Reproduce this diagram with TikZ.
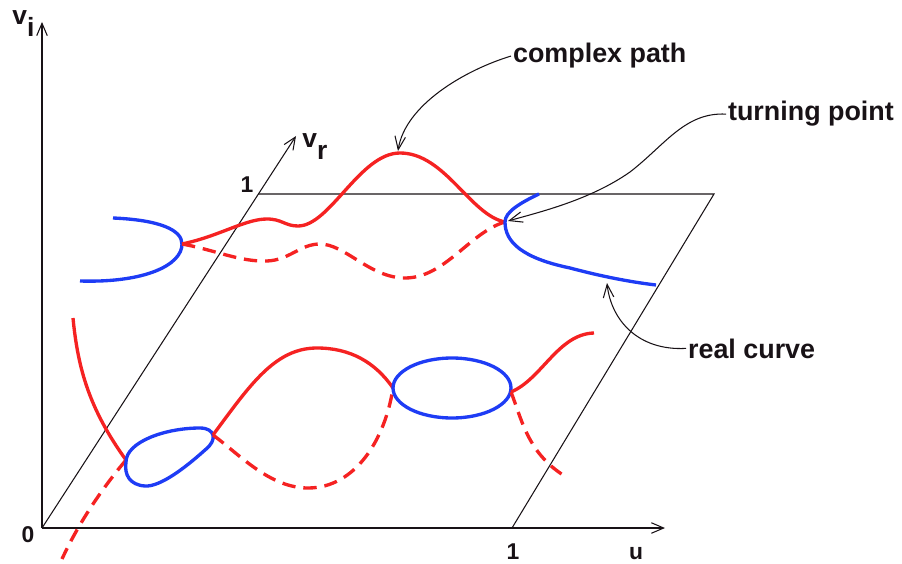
\documentclass[tikz,border=0pt]{standalone}
\usepackage{fontspec}
\setmainfont{Liberation Sans}
\usetikzlibrary{arrows.meta, positioning}
\definecolor{curveRed}{HTML}{F52222}
\definecolor{curveBlue}{HTML}{1E3CF5}
\definecolor{inkDark}{HTML}{181216}
\tikzset{
  axisA/.style={-{Straight Barb[length=7pt, width=6pt]}, line width=0.6pt, draw=inkDark},
  frameA/.style={line width=0.6pt, draw=inkDark},
  noteA/.style={-{Straight Barb[length=7.5pt, width=6pt]}, line width=0.6pt, draw=inkDark},
  curveR/.style={draw=curveRed, line width=1.9pt},
  curveRd/.style={draw=curveRed, line width=1.9pt, dash pattern=on 7.6pt off 4.5pt},
  curveB/.style={draw=curveBlue, line width=1.9pt},
  lblA/.style={font=\fontsize{15.3}{18}\selectfont\bfseries, inner sep=1pt, text=inkDark},
  lblB/.style={font=\fontsize{13}{16}\selectfont\bfseries, inner sep=0pt, text=inkDark},
  lblV/.style={font=\fontsize{15}{18}\selectfont\bfseries, inner sep=0pt, text=inkDark},
}

\begin{document}
\begin{tikzpicture}[x=0.02cm, y=-0.02cm]
    \useasboundingbox (0,0) rectangle (902,564);
    % axes and the unit square
    \coordinate (O) at (42,528);
    \coordinate (viEnd) at (42,22);
    \coordinate (uEnd) at (665,528);
    \coordinate (vrEnd) at (296,136);
    \coordinate (sqA) at (258,194);
    \coordinate (sqB) at (714,194);
    \coordinate (sqC) at (512,528);
    \draw[axisA] (O) -- (viEnd);
    \draw[axisA] (O) -- (uEnd);
    \draw[axisA] (O) -- (vrEnd);
    \draw[frameA] (sqA) -- (sqB) -- (sqC);
    \node[lblV, anchor=base west] (vi) at (12,25) {v\raisebox{-6.8pt}{i}};
    \node[lblV, anchor=base west] (vr) at (302,148) {v\raisebox{-6.8pt}{r}};
    \node[lblB] (zero) at (28,535) {0};
    \node[lblB] (oneV) at (247,185) {1};
    \node[lblB] (oneU) at (513,552) {1};
    \node[lblB] (u) at (636,554) {u};

    % upper sheet
    \draw[curveB] (113,218) .. controls (160,220) and (182,230) .. (182,244)
      .. controls (182,265) and (145,283) .. (80,281);
    \draw[curveR] (182,244) .. controls (220,236) and (245,219) .. (267,219)
      .. controls (282,219) and (285,226) .. (298,226)
      .. controls (330,226) and (360,153) .. (400,153)
      .. controls (445,153) and (470,215) .. (505,222);
    \draw[curveRd] (182,244) .. controls (215,250) and (240,262) .. (267,261)
      .. controls (290,260) and (300,244) .. (320,244)
      .. controls (345,244) and (370,278) .. (405,278)
      .. controls (445,278) and (470,232) .. (505,222);
    \draw[curveB] (539,194) .. controls (520,203) and (505,212) .. (505,222)
      .. controls (505,242) and (522,258) .. (570,268)
      .. controls (600,276) and (630,282) .. (656,285);

    % lower sheet
    \draw[curveR] (73,318) .. controls (78,370) and (90,410) .. (126,460);
    \draw[curveRd] (126,460) .. controls (105,485) and (80,520) .. (62,559);
    \draw[curveB] (126,462) .. controls (126,442) and (165,428) .. (200,428)
      .. controls (215,428) and (218,440) .. (205,450)
      .. controls (185,468) and (160,487) .. (145,486)
      .. controls (130,485) and (124,475) .. (126,462) -- cycle;
    \draw[curveR] (213,435) .. controls (250,385) and (275,348) .. (317,348)
      .. controls (350,348) and (375,362) .. (393,388);
    \draw[curveRd] (213,435) .. controls (240,455) and (270,488) .. (308,488)
      .. controls (355,488) and (385,440) .. (393,388);
    \coordinate (loopC) at (452,388);
    \draw[curveB] (loopC) ellipse [x radius=1.18cm, y radius=0.6cm];
    \draw[curveR] (511,392) .. controls (542,379) and (558,334) .. (594,333);
    \draw[curveRd] (511,392) .. controls (522,420) and (528,455) .. (568,478);

    % annotations
    \coordinate (cpTip) at (398,151);
    \coordinate (tpTip) at (508,221);
    \coordinate (rcTip) at (607,283);
    \node[lblA, anchor=base west] (cp) at (511,63) {complex path};
    \node[lblA, anchor=base west] (tp) at (726,121) {turning point};
    \node[lblA, anchor=base west] (rc) at (686,358) {real curve};
    \draw[noteA] (cp.west) .. controls (465,70) and (405,105) .. (cpTip);
    \draw[noteA] (tp.west) .. controls (685,112) and (665,145) .. (630,172)
      .. controls (590,200) and (540,212) .. (tpTip);
    \draw[noteA] (rc.west) .. controls (638,351) and (611,320) .. (rcTip);
\end{tikzpicture}
\end{document}
